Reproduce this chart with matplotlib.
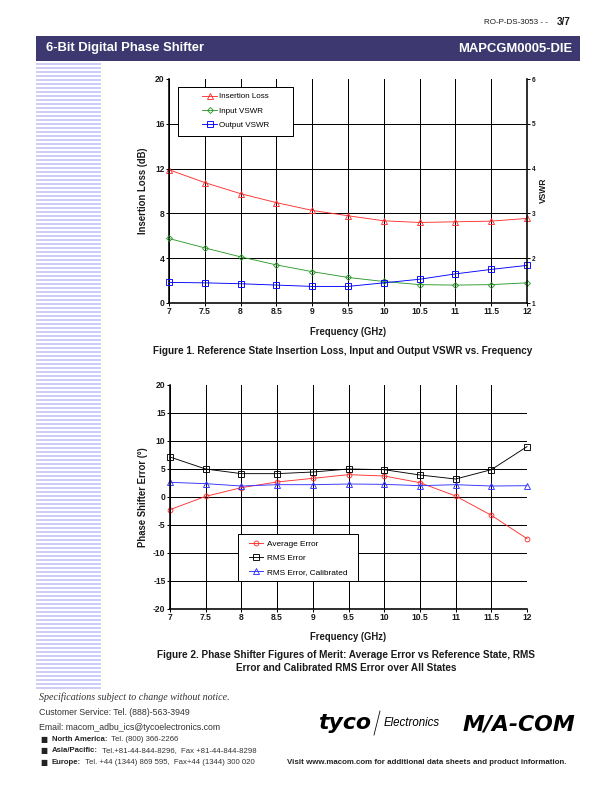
import numpy as np
import matplotlib
matplotlib.use("Agg")
import matplotlib.pyplot as plt
from matplotlib.lines import Line2D
from matplotlib.patches import Rectangle

plt.rcParams["font.family"] = ["Liberation Sans", "DejaVu Sans"]
plt.rcParams["axes.unicode_minus"] = False

# ---- data ----
freq = [7, 7.5, 8, 8.5, 9, 9.5, 10, 10.5, 11, 11.5, 12]

insertion_loss = [11.9, 10.75, 9.76, 8.96, 8.27, 7.79, 7.34, 7.19, 7.25, 7.31, 7.55]
input_vswr = [2.44, 2.23, 2.03, 1.85, 1.70, 1.57, 1.48, 1.41, 1.40, 1.41, 1.45]
output_vswr = [1.46, 1.45, 1.43, 1.40, 1.37, 1.37, 1.45, 1.53, 1.65, 1.75, 1.84]

avg_error = [-2.26, 0.12, 1.67, 2.68, 3.33, 3.99, 3.75, 2.56, 0.18, -3.27, -7.44]
rms_error = [7.14, 5.0, 4.17, 4.17, 4.46, 5.0, 4.88, 3.93, 3.21, 4.88, 8.99]
rms_cal = [2.62, 2.38, 1.96, 2.2, 2.2, 2.32, 2.26, 2.02, 2.2, 1.96, 2.02]

x_ticks = [7, 7.5, 8, 8.5, 9, 9.5, 10, 10.5, 11, 11.5, 12]
il_ticks = [0, 4, 8, 12, 16, 20]
vswr_ticks = [1, 2, 3, 4, 5, 6]
err_ticks = [-20, -15, -10, -5, 0, 5, 10, 15, 20]

W, H = 612, 792
fig = plt.figure(figsize=(W / 72, H / 72), dpi=72)
TXT = "#1a1a1a"


def fx(px):
    return px / W


def fy(py):
    return 1 - py / H


def style_axes(ax):
    ax.set_xlim(7, 12)
    ax.set_xticks(x_ticks)
    ax.set_xticklabels([f"{t:g}" for t in x_ticks])
    ax.grid(True, color="black", linewidth=1.0)
    ax.get_ygridlines()[-1].set_visible(False)
    ax.set_axisbelow(True)
    ax.spines["top"].set_visible(False)
    ax.spines["right"].set_visible(False)
    for s in ["left", "bottom"]:
        ax.spines[s].set_linewidth(1.6)
    ax.tick_params(axis="both", labelsize=8.5, length=3, width=1, pad=1.5,
                   labelcolor=TXT)
    for lab in ax.get_xticklabels() + ax.get_yticklabels():
        lab.set_fontweight("bold")


def legend_box(ax, x0, y0, x1, y1):
    ax.add_patch(Rectangle((x0, y0), x1 - x0, y1 - y0, transform=ax.transAxes,
                           facecolor="white", edgecolor="black", lw=1.0,
                           zorder=4, clip_on=False))


# ---- chart 1 ----
ax1 = fig.add_axes([fx(169), fy(303), fx(527 - 169), (303 - 79) / H])
ax1.set_ylim(0, 20)
ax1.set_yticks(il_ticks)
style_axes(ax1)
ax2 = ax1.twinx()
ax2.set_ylim(1, 6)
ax2.set_yticks(vswr_ticks)
for s in ["top", "left", "bottom"]:
    ax2.spines[s].set_visible(False)
ax2.spines["right"].set_linewidth(1.6)
ax2.tick_params(axis="y", labelsize=6.5, length=3, width=1, pad=2, labelcolor=TXT)
for lab in ax2.get_yticklabels():
    lab.set_fontweight("bold")

l1, = ax1.plot(freq, insertion_loss, color="#ff3030", lw=0.9, marker="^", ms=6,
               mfc="none", mew=0.9, label="Insertion Loss", clip_on=False)
l2, = ax2.plot(freq, input_vswr, color="#2e9a2e", lw=0.9, marker="D", ms=4.2,
               mfc="none", mew=0.9, label="Input VSWR", clip_on=False)
l3, = ax2.plot(freq, output_vswr, color="#0000ff", lw=0.9, marker="s", ms=5.2,
               mfc="none", mew=0.9, label="Output VSWR", clip_on=False)

fig.text(fx(348), fy(332), "Frequency (GHz)", fontsize=9.5, fontweight="bold",
         ha="center", va="center", color=TXT)
fig.text(fx(143.5), fy(191), "Insertion Loss (dB)", fontsize=9.5, fontweight="bold",
         ha="center", va="center", rotation=90, color=TXT)
fig.text(fx(543), fy(190), "VSWR", fontsize=8.5, fontweight="bold",
         ha="center", va="center", rotation=90, color=TXT)

legend_box(ax2, (178 - 169) / 358, 1 - (136 - 79) / 224, (293 - 169) / 358, 1 - (87 - 79) / 224)
leg1 = ax2.legend(handles=[l1, l2, l3], loc="center left",
                  bbox_to_anchor=((202 - 169) / 358, 1 - (111 - 79) / 224),
                  fontsize=8, frameon=False, handlelength=1.9, handletextpad=0.25,
                  labelspacing=0.85, borderpad=0, borderaxespad=0)
leg1.set_zorder(5)

fig.text(fx(343), fy(351), "Figure 1. Reference State Insertion Loss, Input and Output VSWR vs. Frequency",
         ha="center", va="center", fontsize=10, fontweight="bold", color=TXT)

# ---- chart 2 ----
ax3 = fig.add_axes([fx(170), fy(609), fx(527 - 170), (609 - 385) / H])
ax3.set_ylim(-20, 20)
ax3.set_yticks(err_ticks)
style_axes(ax3)

m1, = ax3.plot(freq, avg_error, color="#ff3030", lw=0.9, marker="o", ms=4.8,
               mfc="none", mew=0.9, label="Average Error", clip_on=False)
m2, = ax3.plot(freq, rms_error, color="black", lw=0.9, marker="s", ms=5.5,
               mfc="none", mew=0.9, label="RMS Error", clip_on=False)
m3, = ax3.plot(freq, rms_cal, color="#3030ff", lw=0.9, marker="^", ms=6,
               mfc="none", mew=0.9, label="RMS Error, Calibrated", clip_on=False)

fig.text(fx(348), fy(636.5), "Frequency (GHz)", fontsize=9.5, fontweight="bold",
         ha="center", va="center", color=TXT)
fig.text(fx(143), fy(497), "Phase Shifter Error (°)", fontsize=9.5, fontweight="bold",
         ha="center", va="center", rotation=90, color=TXT)

legend_box(ax3, (238 - 170) / 357, 1 - (581 - 385) / 224, (358 - 170) / 357, 1 - (534 - 385) / 224)
leg2 = ax3.legend(handles=[m1, m2, m3], loc="center left",
                  bbox_to_anchor=((249 - 170) / 357, 1 - (558 - 385) / 224),
                  fontsize=8.2, frameon=False, handlelength=1.75, handletextpad=0.45,
                  labelspacing=0.8, borderpad=0, borderaxespad=0)
leg2.set_zorder(5)

fig.text(fx(346), fy(655), "Figure 2. Phase Shifter Figures of Merit: Average Error vs Reference State, RMS",
         ha="center", va="center", fontsize=10, fontweight="bold", color=TXT)
fig.text(fx(346), fy(668), "Error and Calibrated RMS Error over All States",
         ha="center", va="center", fontsize=10, fontweight="bold", color=TXT)

# ---- page header ----
fig.add_artist(Rectangle((fx(36), fy(61)), fx(580 - 36), 25 / H, transform=fig.transFigure,
                         facecolor="#3d3870", edgecolor="none"))
fig.text(fx(46), fy(48.5), "6-Bit Digital Phase Shifter", color="white", fontsize=13,
         fontweight="bold", va="center", ha="left")
fig.text(fx(572), fy(48.5), "MAPCGM0005-DIE", color="white", fontsize=13,
         fontweight="bold", va="center", ha="right")
fig.text(fx(548), fy(22), "RO-P-DS-3053 - -", fontsize=8, va="center", ha="right", color=TXT)
fig.text(fx(571), fy(22), "3/7", fontsize=10, fontweight="bold", va="center", ha="right", color=TXT)

for py in np.arange(63, 691, 4):
    fig.add_artist(Rectangle((fx(36), fy(py + 2)), fx(101 - 36), 2 / H,
                             transform=fig.transFigure, facecolor="#cdcdf7", edgecolor="none"))

# ---- page footer ----
fig.text(fx(39), fy(697.5), "Specifications subject to change without notice.", fontsize=10,
         family="Liberation Serif", style="italic", va="center", color="#333333")
fig.text(fx(39), fy(712.5), "Customer Service: Tel. (888)-563-3949", fontsize=8.8,
         va="center", color="#333333")
fig.text(fx(39), fy(727.5), "Email: macom_adbu_ics@tycoelectronics.com", fontsize=8.8,
         va="center", color="#333333")
rows = [("North America:", "  Tel. (800) 366-2266"),
        ("Asia/Pacific:", "  Tel.+81-44-844-8296,  Fax +81-44-844-8298"),
        ("Europe:", "  Tel. +44 (1344) 869 595,  Fax+44 (1344) 300 020")]
fig.canvas.draw()
for i, (head, rest) in enumerate(rows):
    yy = fy(739.5 + i * 11.5)
    fig.text(fx(40), yy, "■", fontsize=7.5, family=["DejaVu Sans"], va="center", color="#222222")
    t = fig.text(fx(52), yy, head, fontsize=7.7, fontweight="bold", va="center", color="#222222")
    bb = t.get_window_extent(renderer=fig.canvas.get_renderer())
    fig.text(bb.x1 / fig.bbox.width, yy, rest, fontsize=7.7, va="center", color="#333333")

fig.text(fx(318), fy(723), "tyco", fontsize=22, fontweight="heavy", style="italic",
         va="center", ha="left", family="DejaVu Sans")
fig.add_artist(Line2D([fx(374), fx(380)], [fy(735), fy(711)], color="black", lw=0.8))
fig.text(fx(384), fy(723), "Electronics", fontsize=11.5, style="italic",
         va="center", ha="left")
fig.text(fx(463), fy(724), "M/A-COM", fontsize=22, fontweight="heavy", style="italic",
         va="center", ha="left", family="DejaVu Sans")
fig.text(fx(566), fy(762), "Visit www.macom.com for additional data sheets and product information.",
         fontsize=7.9, fontweight="bold", va="center", ha="right", color="#222222")

fig.savefig("out.png", dpi=72)
